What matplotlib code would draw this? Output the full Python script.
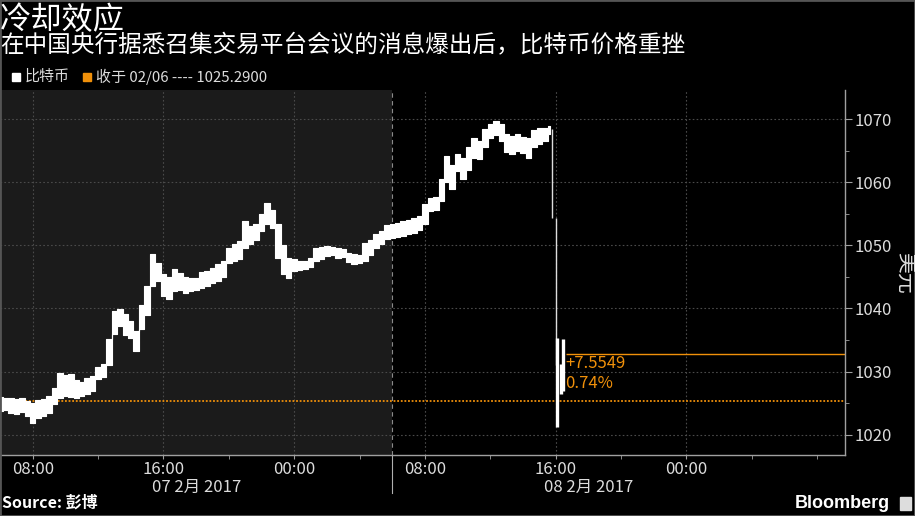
import numpy as np
import matplotlib
matplotlib.use('Agg')
import matplotlib.pyplot as plt
import matplotlib.dates as mdates
from matplotlib.ticker import MultipleLocator, FixedLocator
from matplotlib.patches import Rectangle

plt.rcParams['font.family'] = ['Noto Sans CJK SC', 'DejaVu Sans']

# 20-minute bars from 2017-02-07 06:00 (low / high, USD)
bar_lo = [1023.8, 1024.0, 1023.5, 1023.3, 1023.6, 1023.0, 1021.9, 1022.7, 1022.9, 1023.5,
          1024.9, 1025.9, 1026.2, 1026.0, 1025.9, 1026.1, 1026.5, 1027.0, 1028.8, 1029.2,
          1031.0, 1036.0, 1037.2, 1035.8, 1035.4, 1033.3, 1036.8, 1039.0, 1043.5, 1044.4,
          1042.0, 1041.5, 1042.8, 1043.0, 1042.4, 1042.8, 1042.9, 1043.3, 1043.6, 1044.0,
          1044.4, 1045.0, 1047.2, 1047.5, 1047.8, 1049.6, 1050.2, 1050.8, 1052.3, 1053.4,
          1052.8, 1048.0, 1045.5, 1044.8, 1046.0, 1046.1, 1046.3, 1046.5, 1047.5, 1047.8,
          1048.3, 1048.4, 1048.0, 1048.2, 1047.3, 1047.1, 1047.2, 1047.5, 1048.5, 1049.6,
          1050.2, 1051.0, 1051.2, 1051.3, 1051.5, 1051.8, 1052.0, 1052.4, 1053.4, 1055.4,
          1055.6, 1057.0, 1060.0, 1059.0, 1061.8, 1060.5, 1062.0, 1063.8, 1063.7, 1065.5,
          1067.0, 1067.5, 1066.5, 1064.8, 1064.5, 1064.9, 1064.6, 1063.8, 1065.5, 1066.0,
          1066.5, 1067.6]
bar_hi = [1026.0, 1025.8, 1025.9, 1025.6, 1025.9, 1025.4, 1025.0, 1025.5, 1025.7, 1026.2,
          1027.4, 1029.8, 1029.5, 1029.6, 1028.6, 1028.3, 1029.0, 1029.3, 1030.8, 1031.2,
          1035.2, 1039.6, 1039.9, 1039.1, 1038.0, 1036.5, 1040.6, 1043.5, 1048.6, 1047.2,
          1045.5, 1045.0, 1046.2, 1045.6, 1045.0, 1044.8, 1044.9, 1045.8, 1046.0, 1046.4,
          1047.0, 1047.5, 1049.6, 1050.2, 1050.7, 1053.9, 1053.0, 1053.4, 1055.0, 1056.7,
          1055.6, 1053.4, 1050.0, 1048.0, 1047.8, 1047.6, 1047.5, 1048.0, 1049.6, 1049.8,
          1049.9, 1049.8, 1049.6, 1049.5, 1048.8, 1048.6, 1048.5, 1050.4, 1050.8, 1051.8,
          1052.2, 1053.2, 1053.4, 1053.6, 1053.9, 1054.0, 1054.3, 1054.6, 1056.6, 1057.5,
          1057.6, 1060.5, 1064.1, 1062.8, 1064.5, 1063.8, 1065.5, 1067.0, 1066.5, 1068.4,
          1069.2, 1069.7, 1069.2, 1067.6, 1067.3, 1067.6, 1067.2, 1067.0, 1068.3, 1068.6,
          1068.6, 1068.9]
bar_times = np.datetime64('2017-02-07T06:00') + np.arange(len(bar_lo)) * np.timedelta64(20, 'm')

# the sell-off after the news
crash_times = np.array(['2017-02-08T15:48', '2017-02-08T16:00'], dtype='datetime64[m]')
crash_lo = [1054.3, 1031.0]
crash_hi = [1068.5, 1054.3]
tail_times = np.array(['2017-02-08T16:05', '2017-02-08T16:18', '2017-02-08T16:28'], dtype='datetime64[m]')
tail_lo = [1021.2, 1026.5, 1027.0]
tail_hi = [1035.3, 1031.2, 1035.2]

prev_close = 1025.29
change = 7.5549
change_pct = '0.74%'

orange = '#f0900a'
grid_c = '#4a4a4a'
axis_c = '#a0a0a0'
text_c = '#dcdcdc'

x_start = np.datetime64('2017-02-07T06:00')
x_end = np.datetime64('2017-02-09T09:42')
session_split = np.datetime64('2017-02-08T06:00')
ann_time = np.datetime64('2017-02-08T16:36')
major_ticks = np.array(['2017-02-07T08:00', '2017-02-07T16:00', '2017-02-08T00:00',
                        '2017-02-08T08:00', '2017-02-08T16:00', '2017-02-09T00:00'],
                       dtype='datetime64[m]')
minor_ticks = np.array(['2017-02-07T12:00', '2017-02-07T20:00', '2017-02-08T04:00',
                        '2017-02-08T12:00', '2017-02-08T20:00', '2017-02-09T04:00',
                        '2017-02-09T08:00'], dtype='datetime64[m]')

fig = plt.figure(figsize=(9.15, 5.16), dpi=100, facecolor='black')
ax = fig.add_axes([0.0, 1 - 455 / 516, 845 / 915, 365 / 516])
ax.set_facecolor('black')

ax.axvspan(x_start, session_split, color='#1b1b1b', zorder=0, lw=0)
ax.grid(True, which='major', color=grid_c, ls=(0, (1.5, 2)), lw=0.8)
ax.set_axisbelow(True)

ax.fill_between(bar_times, bar_lo, bar_hi, step='mid', color='white', lw=0.8,
                edgecolor='white', zorder=3)
ax.vlines(crash_times, crash_lo, crash_hi, color='#dddddd', lw=1.0, zorder=3)
ax.vlines(tail_times, tail_lo, tail_hi, color='white', lw=2.4, zorder=3)

ax.axhline(prev_close, color=orange, ls=(0, (1, 1)), lw=1.3, zorder=2)
ax.hlines(prev_close + change, ann_time, x_end, color=orange, lw=1.0, zorder=2)
ax.text(ann_time, prev_close + change - 0.25, '+%.4f' % change, color=orange,
        fontsize=12, va='top', ha='left')
ax.text(ann_time, prev_close + change - 3.4, change_pct, color=orange,
        fontsize=12, va='top', ha='left')

ax.axvline(session_split, color='#8a8a8a', ls=(0, (4, 3)), lw=0.8, zorder=1)
ax.plot([session_split, session_split], [0, -0.105], transform=ax.get_xaxis_transform(),
        clip_on=False, color='#b0b0b0', lw=0.8)

ax.set_xlim(x_start, x_end)
ax.set_ylim(1016.8, 1074.6)

ax.xaxis.set_major_locator(FixedLocator(mdates.date2num(major_ticks)))
ax.xaxis.set_minor_locator(FixedLocator(mdates.date2num(minor_ticks)))
ax.xaxis.set_major_formatter(mdates.DateFormatter('%H:%M'))
ax.yaxis.tick_right()
ax.yaxis.set_major_locator(MultipleLocator(10))
ax.yaxis.set_minor_locator(MultipleLocator(5))

ax.tick_params(axis='x', which='both', colors=axis_c, labelcolor=text_c, length=3,
               labelsize=12, pad=1)
ax.tick_params(axis='y', which='major', colors=axis_c, labelcolor=text_c, length=5,
               labelsize=12, pad=2)
ax.tick_params(axis='y', which='minor', colors=axis_c, length=3)

for side in ['left', 'top']:
    ax.spines[side].set_visible(False)
for side in ['bottom', 'right']:
    ax.spines[side].set_color(axis_c)
    ax.spines[side].set_linewidth(1.0)

for day, label in [('2017-02-07T18:00', '07 2月 2017'), ('2017-02-08T18:00', '08 2月 2017')]:
    ax.text(np.datetime64(day), -0.09, label, transform=ax.get_xaxis_transform(),
            ha='center', va='center', color=text_c, fontsize=12)

fig.text(905 / 915, 1 - 273 / 516, '美元', rotation=-90, ha='center', va='center',
         color=text_c, fontsize=15)

# titles
fig.text(0.0, 1 - 20 / 516, '冷却效应', color='white', fontsize=22.5, ha='left', va='center')
fig.text(0.0, 1 - 46 / 516, '在中国央行据悉召集交易平台会议的消息爆出后，比特币价格重挫',
         color='white', fontsize=17, ha='left', va='center')

# legend
fig.patches.append(Rectangle((12 / 915, 1 - 81 / 516), 8 / 915, 8 / 516,
                             transform=fig.transFigure, color='white'))
fig.text(25 / 915, 1 - 77 / 516, '比特币', color=text_c, fontsize=10.8, va='center')
fig.patches.append(Rectangle((83 / 915, 1 - 81 / 516), 8 / 915, 8 / 516,
                             transform=fig.transFigure, color=orange))
fig.text(96 / 915, 1 - 77 / 516, '收于 02/06 ---- %.4f' % prev_close, color=text_c,
         fontsize=10.8, va='center')

# footer
fig.text(2 / 915, 1 - 503 / 516, 'Source: 彭博', color='white', fontsize=11.5,
         fontweight='bold', va='center')
fig.text(890 / 915, 1 - 503 / 516, 'Bloomberg', color='white', fontsize=13,
         fontweight='bold', va='center', ha='right', family=['Liberation Sans'])
fig.patches.append(Rectangle((900 / 915, 1 - 510 / 516), 11 / 915, 13 / 516,
                             transform=fig.transFigure, color='#dddddd'))

fig.patches.append(Rectangle((0, 0), 1, 1, transform=fig.transFigure, fill=False,
                             edgecolor='#555555', lw=2))

fig.savefig('out.png', dpi=100, facecolor='black')
